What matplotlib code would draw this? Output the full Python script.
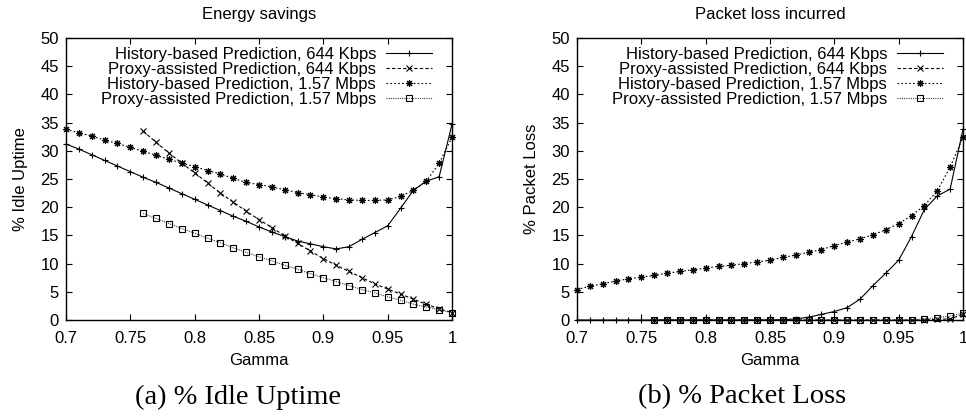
import numpy as np
import matplotlib
matplotlib.use("Agg")
import matplotlib.pyplot as plt
from matplotlib.ticker import FuncFormatter, MultipleLocator

plt.rcParams['font.family'] = ['Liberation Sans', 'DejaVu Sans']

gamma = [round(0.70 + 0.01 * i, 2) for i in range(31)]
gamma_p = gamma[6:]  # proxy-assisted series start at 0.76

labels = ["History-based Prediction, 644 Kbps",
          "Proxy-assisted Prediction, 644 Kbps",
          "History-based Prediction, 1.57 Mbps",
          "Proxy-assisted Prediction, 1.57 Mbps"]

# (a) % Idle Uptime
idle_hist_644 = [31.2, 30.3, 29.3, 28.3, 27.3, 26.3, 25.3, 24.4, 23.4, 22.4,
                 21.4, 20.4, 19.4, 18.4, 17.5, 16.5, 15.6, 14.8, 14.0, 13.5,
                 13.0, 12.6, 13.0, 14.3, 15.5, 16.7, 19.8, 23.0, 24.6, 25.4, 34.7]
idle_proxy_644 = [33.5, 31.5, 29.6, 27.8, 26.1, 24.3, 22.5, 20.9, 19.3, 17.8,
                  16.4, 14.9, 13.6, 12.2, 10.9, 9.7, 8.6, 7.5, 6.4, 5.5,
                  4.6, 3.7, 2.8, 2.0, 1.3]
idle_hist_157 = [33.8, 33.2, 32.6, 31.9, 31.3, 30.6, 29.9, 29.2, 28.5, 27.8,
                 27.2, 26.5, 25.9, 25.1, 24.4, 24.0, 23.6, 23.1, 22.6, 22.2,
                 21.8, 21.5, 21.3, 21.2, 21.2, 21.3, 21.9, 23.0, 24.6, 27.8, 32.4]
idle_proxy_157 = [18.9, 18.0, 17.1, 16.2, 15.4, 14.5, 13.7, 12.8, 12.0, 11.2,
                  10.5, 9.7, 9.0, 8.2, 7.5, 6.8, 6.1, 5.4, 4.8, 4.1,
                  3.5, 2.8, 2.3, 1.8, 1.3]

# (b) % Packet Loss
loss_hist_644 = [0.0, 0.0, 0.0, 0.0, 0.0, 0.0, 0.0, 0.0, 0.0, 0.0,
                 0.0, 0.0, 0.0, 0.0, 0.0, 0.0, 0.05, 0.2, 0.5, 1.0,
                 1.5, 2.2, 3.7, 6.1, 8.3, 10.6, 14.8, 19.6, 22.0, 23.2, 33.8]
loss_proxy_644 = [0.0, 0.0, 0.0, 0.0, 0.0, 0.0, 0.0, 0.0, 0.0, 0.0,
                  0.0, 0.0, 0.0, 0.0, 0.0, 0.0, 0.0, 0.0, 0.0, 0.0,
                  0.0, 0.05, 0.1, 0.2, 1.0]
loss_hist_157 = [5.4, 6.0, 6.4, 6.9, 7.3, 7.6, 7.9, 8.3, 8.6, 8.9,
                 9.2, 9.5, 9.7, 10.0, 10.3, 10.6, 11.1, 11.5, 12.0, 12.5,
                 13.2, 13.8, 14.4, 15.1, 16.0, 17.1, 18.5, 20.3, 22.9, 27.1, 32.4]
loss_proxy_157 = [0.0, 0.0, 0.0, 0.0, 0.0, 0.0, 0.0, 0.0, 0.0, 0.0,
                  0.0, 0.0, 0.0, 0.0, 0.0, 0.0, 0.0, 0.0, 0.0, 0.0,
                  0.0, 0.2, 0.4, 0.7, 1.2]

titles = ["Energy savings", "Packet loss incurred"]
ylabels = ["% Idle Uptime", "% Packet Loss"]
captions = ["(a) % Idle Uptime", "(b) % Packet Loss"]

W, H = 966, 417
fig = plt.figure(figsize=(W / 100, H / 100), dpi=100)

def ax_rect(x0, x1, y0, y1):
    return [x0 / W, 1 - y1 / H, (x1 - x0) / W, (y1 - y0) / H]

axes = [fig.add_axes(ax_rect(66, 452, 38, 320)),
        fig.add_axes(ax_rect(577, 963, 38, 320))]
caption_x = [238, 742]

star = (8, 2, 0)
styles = [
    dict(color='black', lw=0.8, ls='-', marker='+', ms=5, mew=0.8),
    dict(color='black', lw=0.8, ls=(0, (3, 2)), marker='x', ms=4.5, mew=0.8),
    dict(color='black', lw=0.8, ls=(0, (1.5, 2)), marker=star, ms=5, mew=0.8),
    dict(color='0.25', lw=0.8, ls=(0, (1, 1)), marker='s', ms=4, mew=0.8,
         mfc='none', mec='black'),
]

datasets = [
    [(gamma, idle_hist_644), (gamma_p, idle_proxy_644), (gamma, idle_hist_157), (gamma_p, idle_proxy_157)],
    [(gamma, loss_hist_644), (gamma_p, loss_proxy_644), (gamma, loss_hist_157), (gamma_p, loss_proxy_157)],
]

for i, ax in enumerate(axes):
    for (xs, ys), st, lab in zip(datasets[i], styles, labels):
        ax.plot(xs, ys, label=lab, clip_on=False, **st)
    ax.set_xlim(0.7, 1.0)
    ax.set_ylim(0, 50)
    ax.xaxis.set_major_locator(MultipleLocator(0.05))
    ax.yaxis.set_major_locator(MultipleLocator(5))
    ax.xaxis.set_major_formatter(FuncFormatter(lambda v, p: ('%g' % round(v, 2))))
    ax.tick_params(direction='in', top=True, right=True, length=4, width=0.8,
                   labelsize=12, colors='black')
    ax.tick_params(axis='x', pad=8)
    ax.tick_params(axis='y', pad=5)
    for s in ax.spines.values():
        s.set_linewidth(1.0)
    ax.set_title(titles[i], fontsize=12, pad=14)
    ax.set_xlabel("Gamma", fontsize=12, labelpad=5)
    ax.set_ylabel(ylabels[i], fontsize=12, labelpad=9)
    leg = ax.legend(loc='upper right', bbox_to_anchor=(0.948, 0.968), frameon=False,
                    markerfirst=False, numpoints=1, fontsize=12, handlelength=2.75,
                    handletextpad=0.6, labelspacing=0.0, borderpad=0, borderaxespad=0)
    fig.text(caption_x[i] / W, 1 - 397 / H, captions[i], ha='center', va='center',
             fontsize=20.5, family=['Liberation Serif', 'DejaVu Serif'])

fig.savefig("out.png", dpi=100)
